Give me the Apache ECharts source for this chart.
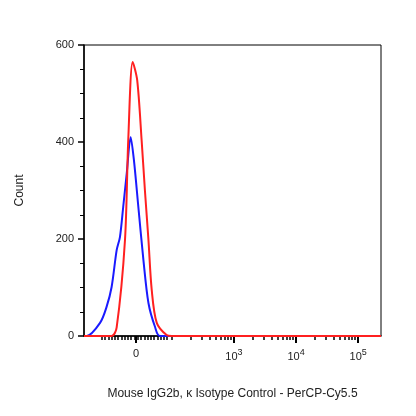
<!DOCTYPE html>
<html><head><meta charset="utf-8">
<script src="https://cdn.jsdelivr.net/npm/echarts@6/dist/echarts.min.js"></script>
<style>html,body{margin:0;padding:0;background:#fff}#c{width:416px;height:416px}</style>
</head><body><div id="c"></div>
<script>
// x in display channel units (0..1000), y = Count
const redX = [0, 93, 110, 138, 149, 164, 179, 194, 205, 217, 228, 245, 278, 296, 1000];
const redY = [0, 0, 18, 198, 404, 565, 528, 404, 301, 198, 95, 27, 2, 0, 0];
const blueX = [0, 9, 54, 76, 93, 110, 121, 132, 144, 157, 168, 183, 200, 217, 239, 256, 1000];
const blueY = [0, 0, 27, 60, 101, 177, 204, 266, 336, 410, 363, 266, 157, 68, 19, 0, 0];
const majorTickPos = [175, 505, 714, 923];
const majorTickLabels = ['0', '10|3', '10|4', '10|5'];

const minor = [];
for (let v = 60; v < 290; v += 11) minor.push(v);
[296, 505, 714].forEach(b => { for (let k = 2; k <= 9; k++) minor.push(Math.round(b + 209 * Math.log10(k))); });
minor.push(296);
const pair = (xs, ys) => xs.map((x, i) => [x, ys[i]]);

const chart = echarts.init(document.getElementById('c'));
const lbl = {};
majorTickPos.forEach((p, i) => lbl[p] = majorTickLabels[i]);
chart.setOption({
  animation: false,
  grid: { left: 84, right: 35, top: 45, bottom: 80, show: true, borderColor: '#000', borderWidth: 1 },
  xAxis: [{
    type: 'value', min: 0, max: 1000, position: 'bottom',
    axisLine: { show: true, lineStyle: { color: '#000', width: 1.5 } },
    axisTick: { show: true, customValues: minor, length: 4, lineStyle: { color: '#000', width: 1.5 } },
    axisLabel: { show: false },
    splitLine: { show: false },
    name: 'Mouse IgG2b, κ Isotype Control - PerCP-Cy5.5', nameLocation: 'middle', nameGap: 52,
    nameTextStyle: { fontFamily: 'Liberation Sans', fontSize: 12, color: '#222' }
  }, {
    type: 'value', min: 0, max: 1000, position: 'bottom',
    axisLine: { show: false },
    axisTick: { show: true, customValues: majorTickPos, length: 7, lineStyle: { color: '#000', width: 2 } },
    axisLabel: {
      customValues: majorTickPos, margin: 12,
      formatter: v => { const s = lbl[Math.round(v)] || ''; if (s.includes('|')) { const [b, e] = s.split('|'); return b + '{sup|' + e + '}'; } return s; },
      fontFamily: 'Liberation Sans', fontSize: 11, color: '#222',
      rich: { sup: { fontSize: 9, verticalAlign: 'top', padding: [0, 0, 8, 0], fontFamily: 'Liberation Sans', color: '#222' } }
    },
    splitLine: { show: false }
  }],
  yAxis: {
    type: 'value', min: 0, max: 600, interval: 200,
    axisLine: { show: true, lineStyle: { color: '#000', width: 1.5 } },
    axisTick: { show: true, length: 6, lineStyle: { color: '#000', width: 1.5 } },
    minorTick: { show: true, splitNumber: 4, length: 4, lineStyle: { color: '#000' } },
    axisLabel: { fontFamily: 'Liberation Sans', fontSize: 11, color: '#222', margin: 10 },
    splitLine: { show: false },
    name: 'Count', nameLocation: 'middle', nameGap: 58, nameRotate: 90,
    nameTextStyle: { fontFamily: 'Liberation Sans', fontSize: 12, color: '#222' }
  },
  series: [
    { type: 'line', data: pair(blueX, blueY), smooth: 0.3, symbol: 'none', lineStyle: { color: '#1a1aff', width: 2 }, xAxisIndex: 0 },
    { type: 'line', data: pair(redX, redY), smooth: 0.3, symbol: 'none', lineStyle: { color: '#ff2020', width: 2 }, xAxisIndex: 0 }
  ]
});
</script></body></html>
